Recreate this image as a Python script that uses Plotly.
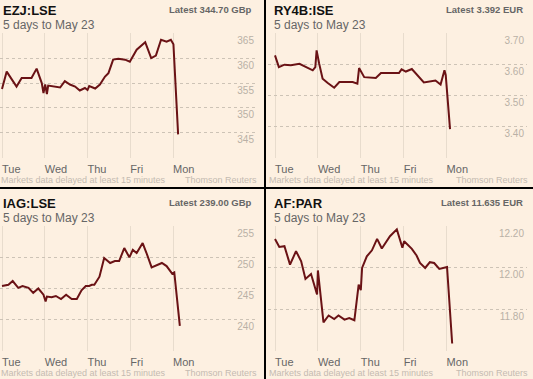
import plotly.graph_objects as go

W, H = 533, 379
BG = "#fdf0e1"
LINE = "#6a1215"
FONT = "Liberation Sans, Arial, sans-serif"

day_labels = ["Tue", "Wed", "Thu", "Fri", "Mon"]
day_starts = [0, 1, 2, 3, 4]

# ---- EZJ:LSE (x in trading days from Tue open) ----
ezj_x = [0.0, 0.11, 0.34, 0.46, 0.69, 0.81, 0.93, 0.97, 1.01, 1.05, 1.08, 1.36, 1.47, 1.59,
         1.71, 1.82, 1.94, 2.0, 2.04, 2.18, 2.29, 2.41, 2.49, 2.60, 2.72, 2.88, 2.99, 3.03,
         3.15, 3.35, 3.49, 3.60, 3.72, 3.85, 3.95, 4.01, 4.12]
ezj_y = [353.8, 357.3, 354.3, 356.0, 356.0, 357.9, 355.0, 353.0, 354.7, 352.8, 354.5, 354.1,
         355.4, 354.7, 354.3, 353.5, 354.0, 353.6, 354.4, 353.9, 354.7, 356.3, 357.0, 359.7,
         359.9, 359.7, 359.3, 359.9, 361.7, 363.2, 360.0, 360.5, 363.7, 363.3, 363.7, 362.8,
         344.7]
ezj_ticks = [340, 345, 350, 355, 360, 365]
ezj_ticktext = ["", "345", "350", "355", "360", "365"]

# ---- RY4B:ISE ----
ry_x = [0.0, 0.09, 0.22, 0.37, 0.57, 0.72, 0.88, 0.94, 0.97, 1.03, 1.11, 1.23, 1.38, 1.50,
        1.69, 1.81, 1.92, 1.96, 2.08, 2.35, 2.47, 2.89, 2.95, 3.05, 3.19, 3.32, 3.47, 3.74,
        3.86, 3.95, 3.98, 4.08]
ry_y = [3.629, 3.591, 3.599, 3.597, 3.602, 3.591, 3.581, 3.591, 3.645, 3.602, 3.554, 3.540,
        3.525, 3.543, 3.542, 3.543, 3.538, 3.588, 3.559, 3.556, 3.572, 3.572, 3.584, 3.577,
        3.585, 3.565, 3.542, 3.548, 3.535, 3.581, 3.565, 3.392]
ry_ticks = [3.30, 3.40, 3.50, 3.60, 3.70]
ry_ticktext = ["", "3.40", "3.50", "3.60", "3.70"]

# ---- IAG:LSE ----
iag_x = [0.0, 0.15, 0.25, 0.38, 0.48, 0.62, 0.73, 0.85, 0.97, 1.02, 1.05, 1.16, 1.26, 1.38,
         1.50, 1.63, 1.75, 1.86, 1.96, 2.04, 2.10, 2.16, 2.28, 2.39, 2.53, 2.64, 2.74, 2.86,
         2.98, 3.06, 3.15, 3.29, 3.38, 3.50, 3.74, 3.85, 3.98, 4.03, 4.16]
iag_y = [245.4, 245.6, 246.2, 245.1, 245.4, 245.1, 244.3, 245.0, 244.0, 242.9, 243.7, 243.6,
         243.8, 243.3, 244.0, 243.3, 243.3, 244.7, 245.4, 245.4, 245.6, 245.6, 246.9, 249.9,
         249.1, 249.4, 249.4, 251.5, 250.0, 251.2, 250.7, 252.3, 250.7, 248.4, 249.1, 248.6,
         247.4, 247.6, 239.0]
iag_ticks = [235, 240, 245, 250, 255]
iag_ticktext = ["", "240", "245", "250", "255"]

# ---- AF:PAR ----
af_x = [0.0, 0.10, 0.22, 0.35, 0.49, 0.61, 0.71, 0.84, 0.98, 1.0, 1.13, 1.25, 1.38, 1.48,
        1.62, 1.73, 1.85, 1.95, 2.0, 2.03, 2.14, 2.26, 2.38, 2.49, 2.68, 2.84, 2.97, 3.01,
        3.19, 3.30, 3.38, 3.50, 3.61, 3.71, 3.83, 4.01, 4.13]
af_y = [12.139, 12.100, 12.104, 12.015, 12.080, 12.031, 11.946, 11.970, 11.871, 11.987,
        11.737, 11.770, 11.753, 11.770, 11.750, 11.758, 11.747, 11.919, 11.892, 11.999,
        12.055, 12.084, 12.139, 12.093, 12.152, 12.185, 12.096, 12.128, 12.091, 12.059,
        12.023, 11.999, 12.027, 12.023, 11.994, 12.004, 11.635]
af_ticks = [11.60, 11.80, 12.00, 12.20]
af_ticktext = ["", "11.80", "12.00", "12.20"]

panels = [
    dict(sym="EZJ:LSE", latest="Latest 344.70 GBp", x=ezj_x, y=ezj_y, tv=ezj_ticks,
         tt=ezj_ticktext, ox=0, oy=0, day0=2.0, dpx=42.75, x0=0, x1=257),
    dict(sym="RY4B:ISE", latest="Latest 3.392 EUR", x=ry_x, y=ry_y, tv=ry_ticks,
         tt=ry_ticktext, ox=271, oy=0, day0=275.0, dpx=42.9, x0=268, x1=527),
    dict(sym="IAG:LSE", latest="Latest 239.00 GBp", x=iag_x, y=iag_y, tv=iag_ticks,
         tt=iag_ticktext, ox=0, oy=193, day0=2.0, dpx=42.75, x0=0, x1=257),
    dict(sym="AF:PAR", latest="Latest 11.635 EUR", x=af_x, y=af_y, tv=af_ticks,
         tt=af_ticktext, ox=271, oy=193, day0=275.0, dpx=42.9, x0=268, x1=527),
]


def px(x):
    return x / W


def py(y):
    return 1 - y / H


fig = go.Figure()
annotations = []
layout = {}

for i, p in enumerate(panels, start=1):
    xa = "x" if i == 1 else f"x{i}"
    ya = "y" if i == 1 else f"y{i}"
    xkey = "xaxis" if i == 1 else f"xaxis{i}"
    ykey = "yaxis" if i == 1 else f"yaxis{i}"
    fig.add_trace(go.Scatter(x=p["x"], y=p["y"], mode="lines", xaxis=xa, yaxis=ya,
                             line=dict(color=LINE, width=2), hoverinfo="skip",
                             showlegend=False))
    if p["oy"] == 0:
        top, bot = 33, 158
    else:
        top, bot = 226, 351
    tv = p["tv"]
    pad = (tv[-1] - tv[0]) * 0.002
    layout[xkey] = dict(
        domain=[px(p["x0"]), px(p["x1"])], anchor=ya,
        range=[(p["x0"] - p["day0"]) / p["dpx"], (p["x1"] - p["day0"]) / p["dpx"]],
        tickvals=day_starts, ticktext=day_labels, ticklabelposition="outside right",
        ticklabelstandoff=3,
        ticks="", showgrid=True, gridcolor="#e8dccd", gridwidth=1, zeroline=False,
        showline=False, tickfont=dict(family=FONT, size=11, color="#666666"),
        fixedrange=True,
    )
    layout[ykey] = dict(
        domain=[py(bot), py(top)], anchor=xa, side="right",
        range=[tv[0] - pad, tv[-1] + pad], tickvals=tv, ticktext=p["tt"],
        ticklabelposition="inside bottom", ticks="", showgrid=True,
        gridcolor="#cdc3b6", griddash="dot", gridwidth=1, zeroline=False, showline=False,
        tickfont=dict(family=FONT, size=10, color="#b9b0a6"), fixedrange=True,
    )
    ox, oy = p["ox"], p["oy"]
    annotations += [
        dict(text=f"<b>{p['sym']}</b>", x=px(ox + 2), y=py(oy + 11 - (1 if oy else 0)),
             xanchor="left", yanchor="middle",
             font=dict(family=FONT, size=13, color="#111111")),
        dict(text="5 days to May 23", x=px(ox + 2), y=py(oy + 25),
             xanchor="left", yanchor="middle",
             font=dict(family=FONT, size=12, color="#666666")),
        dict(text=f"<b>{p['latest']}</b>", x=px(ox + 253), y=py(oy + 9),
             xanchor="right", yanchor="middle",
             font=dict(family=FONT, size=9.5, color="#666666")),
        dict(text="Markets data delayed at least 15 minutes", x=px(max(ox - 3, 0)),
             y=py(oy + 180), xanchor="left", yanchor="middle",
             font=dict(family=FONT, size=9, color="#c4bbb1")),
        dict(text="Thomson Reuters", x=px(ox + 258), y=py(oy + 180),
             xanchor="right", yanchor="middle",
             font=dict(family=FONT, size=9, color="#c4bbb1")),
    ]

for a in annotations:
    a.update(xref="paper", yref="paper", showarrow=False, borderpad=0)

shapes = [
    dict(type="rect", xref="paper", yref="paper", x0=px(264), x1=px(266), y0=0, y1=1,
         fillcolor="#000000", line=dict(width=0), layer="above"),
    dict(type="rect", xref="paper", yref="paper", x0=0, x1=1, y0=py(189), y1=py(187),
         fillcolor="#000000", line=dict(width=0), layer="above"),
]

fig.update_layout(
    width=W, height=H, margin=dict(l=0, r=0, t=0, b=0),
    paper_bgcolor=BG, plot_bgcolor=BG, annotations=annotations, shapes=shapes,
    showlegend=False, **layout,
)

fig.write_html("out.html", config={"displayModeBar": False},
               post_script="document.body.style.margin='0';document.body.style.overflow='hidden';")
